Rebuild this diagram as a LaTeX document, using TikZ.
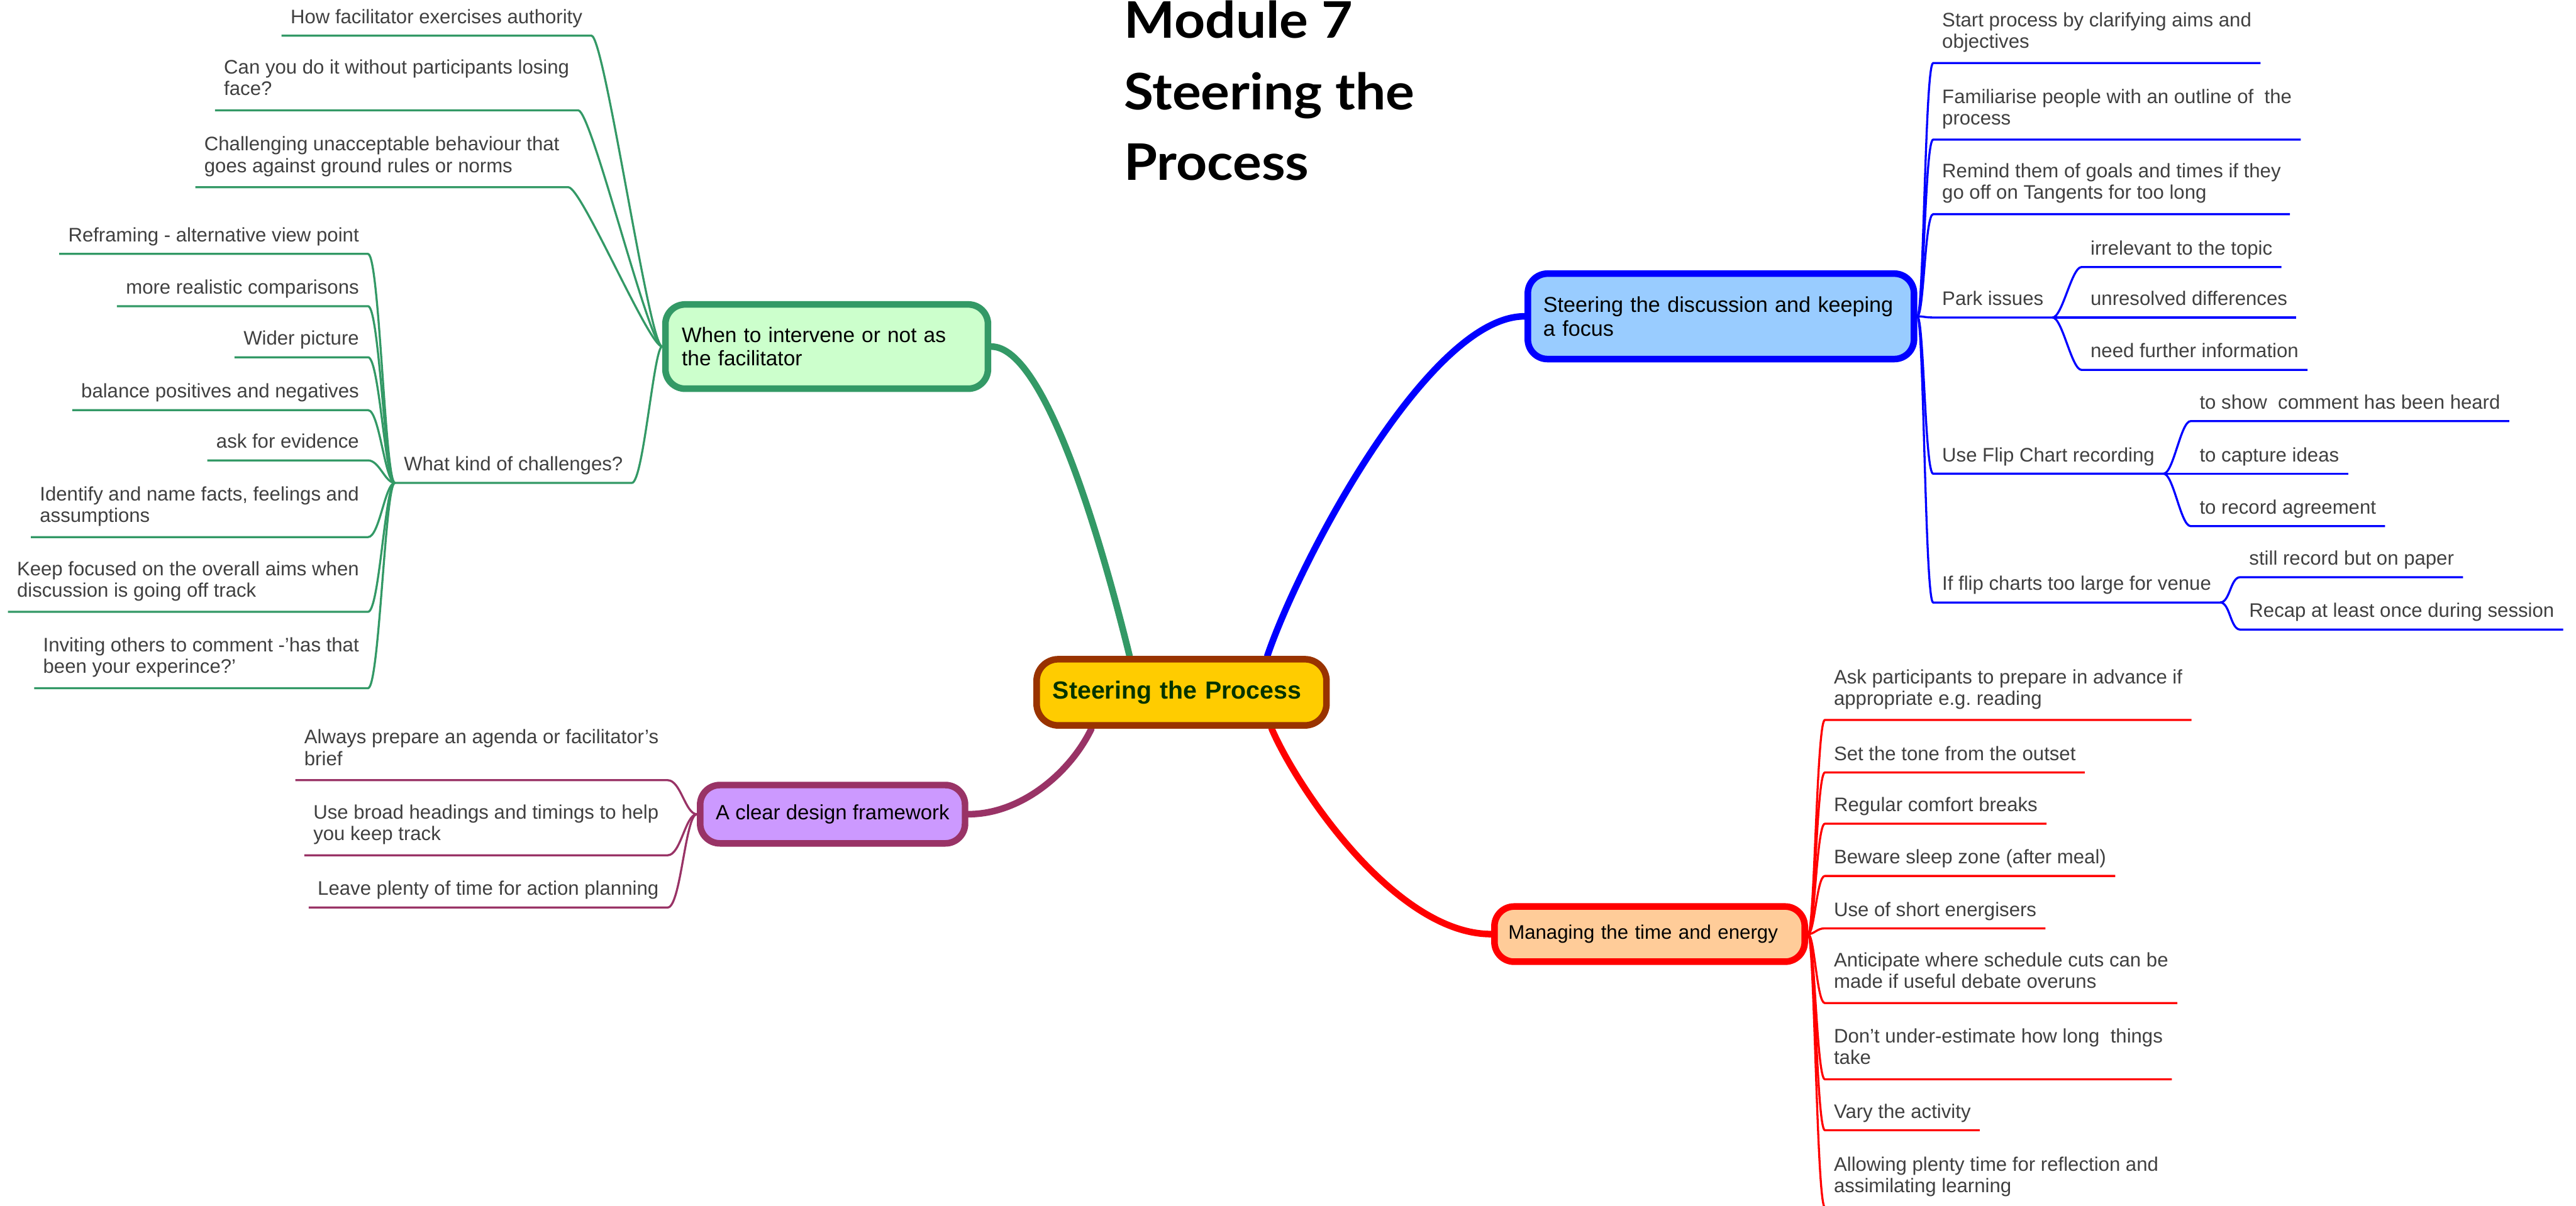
\documentclass[tikz,border=0pt]{standalone}
\usepackage{fontspec}
\setmainfont{Liberation Sans}
\newfontfamily\titlefont{Lato}[FakeStretch=1.07]
\usetikzlibrary{backgrounds}
\definecolor{grn}{HTML}{339966}
\definecolor{grnfill}{HTML}{CCFFCC}
\definecolor{blu}{HTML}{0000FF}
\definecolor{blufill}{HTML}{99CCFF}
\definecolor{pur}{HTML}{993366}
\definecolor{purfill}{HTML}{CC99FF}
\definecolor{rd}{HTML}{FF0000}
\definecolor{orgfill}{HTML}{FFCC99}
\definecolor{brn}{HTML}{993300}
\definecolor{gold}{HTML}{FFCC00}
\definecolor{dkgreen}{HTML}{003300}
\definecolor{leaftext}{HTML}{404040}
\frenchspacing
\begin{document}
\begin{tikzpicture}[x=0.025cm,y=-0.025cm,
  leaf/.style={font=\fontsize{8.48}{9.3}\selectfont, text=leaftext, align=left,
    inner xsep=0.1375cm, inner ysep=0.125cm, text depth=1.7pt, outer sep=0pt},
  two/.style={text depth=2.9pt},
  gl/.style={draw=grn, line width=0.9pt},
  bl/.style={draw=blu, line width=0.9pt},
  pl/.style={draw=pur, line width=0.9pt},
  rl/.style={draw=rd, line width=0.9pt},
  trunk/.style={line width=2.85pt, line cap=round},
  branch/.style={rectangle, rounded corners=0.3cm, line width=2.85pt, text=black},
  ttl/.style={font=\titlefont\bfseries\fontsize{21.8}{26}\selectfont, inner sep=0pt, anchor=base west}
]
\useasboundingbox (0,0) rectangle (1568,734);

% title
\node[ttl] (t1) at (684,23.3) {Module 7};
\node[ttl] (t2) at (684,66.8) {Steering the};
\node[ttl] (t3) at (684,109.5) {Process};

% central
\node[rectangle, rounded corners=0.33cm, line width=2.85pt, draw=brn, fill=gold,
  minimum width=4.41cm, minimum height=1.0075cm, text width=3.92cm, inner xsep=0.245cm,
  align=left, text=dkgreen, font=\bfseries\fontsize{10.7}{12}\selectfont] (cen) at (719.2,421.5) {Steering the Process};

% main branch nodes
\node[branch, draw=grn, fill=grnfill, minimum width=4.9075cm, minimum height=1.2825cm,
  text width=4.4075cm, inner xsep=0.25cm, align=left, font=\fontsize{9.1}{10.2}\selectfont]
  (gn) at (503.2,211) {When to intervene or not as\\the facilitator};
\node[branch, draw=blu, fill=blufill, minimum width=5.875cm, minimum height=1.3cm,
  text width=5.405cm, inner xsep=0.235cm, align=left, font=\fontsize{9.3}{10.5}\selectfont]
  (bn) at (1047.5,192.6) {Steering the discussion and keeping\\a focus};
\node[branch, draw=pur, fill=purfill, minimum width=4.03cm, minimum height=0.8875cm,
  align=center, font=\fontsize{8.96}{10}\selectfont]
  (pn) at (506.8,495.7) {A clear design framework};
\node[branch, draw=rd, fill=orgfill, minimum width=4.72cm, minimum height=0.84cm,
  text width=4.3cm, inner xsep=0.21cm, align=left, font=\fontsize{8.5}{10}\selectfont]
  (on) at (1004.1,568.7) {Managing the time and energy};

% green leaves
\node[leaf, anchor=south east] (g1) at (360,21.7) {How facilitator exercises authority};
\node[leaf, two, anchor=south east] (g2) at (352,67.2) {Can you do it without participants losing\\face?};
\node[leaf, two, anchor=south east] (g3) at (346,114) {Challenging unacceptable behaviour that\\goes against ground rules or norms};
\node[leaf, anchor=south east] (wk) at (384.6,294) {What kind of challenges?};
\node[leaf, anchor=south east] (w1) at (224,154.6) {Reframing - alternative view point};
\node[leaf, anchor=south east] (w2) at (224,186.4) {more realistic comparisons};
\node[leaf, anchor=south east] (w3) at (224,217.5) {Wider picture};
\node[leaf, anchor=south east] (w4) at (224,249.7) {balance positives and negatives};
\node[leaf, anchor=south east] (w5) at (224,280.3) {ask for evidence};
\node[leaf, two, anchor=south east] (w6) at (224,327) {Identify and name facts, feelings and\\assumptions};
\node[leaf, two, anchor=south east] (w7) at (224,372.5) {Keep focused on the overall aims when\\discussion is going off track};
\node[leaf, two, anchor=south east] (w8) at (224,419) {Inviting others to comment -'has that\\been your experince?'};

% purple leaves
\node[leaf, two, anchor=south east] (p1) at (406.4,475) {Always prepare an agenda or facilitator's\\brief};
\node[leaf, two, anchor=south east] (p2) at (406.4,520.7) {Use broad headings and timings to help\\you keep track};
\node[leaf, anchor=south east] (p3) at (406.4,552.5) {Leave plenty of time for action planning};

% blue leaves
\node[leaf, two, anchor=south west] (b1) at (1176.7,38.4) {Start process by clarifying aims and\\objectives};
\node[leaf, two, anchor=south west] (b2) at (1176.7,85) {Familiarise people with an outline of~ the\\process};
\node[leaf, two, anchor=south west] (b3) at (1176.7,130.4) {Remind them of goals and times if they\\go off on Tangents for too long};
\node[leaf, anchor=south west] (pk) at (1176.7,193.3) {Park issues};
\node[leaf, anchor=south west] (pk1) at (1267,162.6) {irrelevant to the topic};
\node[leaf, anchor=south west] (pk2) at (1267,193.3) {unresolved differences};
\node[leaf, anchor=south west] (pk3) at (1267,225.2) {need further information};
\node[leaf, anchor=south west] (fc) at (1176.7,288.4) {Use Flip Chart recording};
\node[leaf, anchor=south west] (fc1) at (1333.4,256.4) {to show~ comment has been heard};
\node[leaf, anchor=south west] (fc2) at (1333.4,288.4) {to capture ideas};
\node[leaf, anchor=south west] (fc3) at (1333.4,320.3) {to record agreement};
\node[leaf, anchor=south west] (lg) at (1176.7,366.8) {If flip charts too large for venue};
\node[leaf, anchor=south west] (lg1) at (1363.6,351.4) {still record but on paper};
\node[leaf, anchor=south west] (lg2) at (1363.6,383.3) {Recap at least once during session};

% red leaves
\node[leaf, two, anchor=south west] (r1) at (1110.8,438.3) {Ask participants to prepare in advance if\\appropriate e.g. reading};
\node[leaf, anchor=south west] (r2) at (1110.8,470.3) {Set the tone from the outset};
\node[leaf, anchor=south west] (r3) at (1110.8,501.5) {Regular comfort breaks};
\node[leaf, anchor=south west] (r4) at (1110.8,533.3) {Beware sleep zone (after meal)};
\node[leaf, anchor=south west] (r5) at (1110.8,565.2) {Use of short energisers};
\node[leaf, two, anchor=south west] (r6) at (1110.8,610.7) {Anticipate where schedule cuts can be\\made if useful debate overuns};
\node[leaf, two, anchor=south west] (r7) at (1110.8,657.1) {Don't under-estimate how long~ things\\take};
\node[leaf, anchor=south west] (r8) at (1110.8,688.1) {Vary the activity};
\node[leaf, two, anchor=south west] (r9) at (1110.8,735) {Allowing plenty time for reflection and\\assimilating learning};

\begin{scope}[on background layer]
\fill[white] (0,0) rectangle (1568,734);
% trunks
\draw[trunk, grn] (cen.145) .. controls +(-17,-69) and +(33,0) .. (gn.east);
\draw[trunk, blu] (cen.23) .. controls +(20,-59) and +(-58,0) .. (bn.west);
\draw[trunk, pur] (cen.202) .. controls +(-13,27) and +(32,0) .. (pn.east);
\draw[trunk, rd] (cen.338) .. controls +(16,37) and +(-58,0) .. (on.west);

% green
\foreach \n in {g1,g2,g3}
  \draw[gl] (\n.south west) -- (\n.south east) .. controls +(8,0) and +(-8,0) .. (gn.west);
\draw[gl] (wk.south west) -- (wk.south east) .. controls +(7,0) and +(-5,0) .. (gn.west);
\foreach \n in {w1,w2,w3,w4,w5,w6,w7,w8}
  \draw[gl] (\n.south west) -- (\n.south east) .. controls +(7,0) and +(-6,0) .. (wk.south west);

% purple
\foreach \n in {p1,p2,p3}
  \draw[pl] (\n.south west) -- (\n.south east) .. controls +(8,0) and +(-7,0) .. (pn.west);

% blue
\foreach \n in {b1,b2,b3,pk,fc,lg}
  \draw[bl] (bn.east) .. controls +(4,0) and +(-5,0) .. (\n.south west) -- (\n.south east);
\foreach \n in {pk1,pk2,pk3}
  \draw[bl] (pk.south east) .. controls +(6,0) and +(-6,0) .. (\n.south west) -- (\n.south east);
\foreach \n in {fc1,fc2,fc3}
  \draw[bl] (fc.south east) .. controls +(6,0) and +(-6,0) .. (\n.south west) -- (\n.south east);
\foreach \n in {lg1,lg2}
  \draw[bl] (lg.south east) .. controls +(6,0) and +(-6,0) .. (\n.south west) -- (\n.south east);

% red
\foreach \n in {r1,r2,r3,r4,r5,r6,r7,r8,r9}
  \draw[rl] (on.east) .. controls +(4,0) and +(-5,0) .. (\n.south west) -- (\n.south east);
\end{scope}
\end{tikzpicture}
\end{document}
